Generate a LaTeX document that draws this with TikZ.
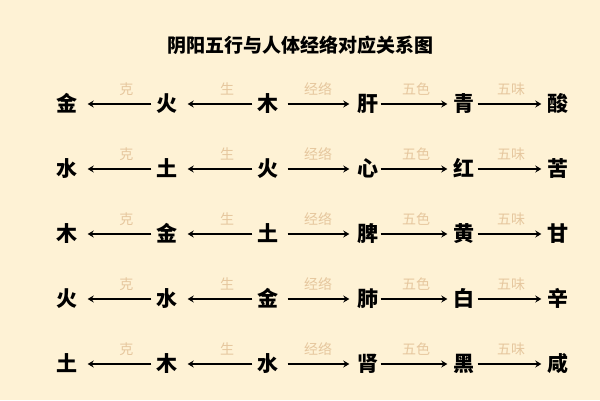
\documentclass[tikz,border=0pt]{standalone}
\usepackage{fontspec}
\setmainfont{Noto Sans CJK SC}
\usetikzlibrary{arrows.meta}
\definecolor{paper}{HTML}{FEF2D5}
\definecolor{tag}{HTML}{E6C79E}
\tikzset{
  ch/.style={font=\fontsize{21}{21}\selectfont\bfseries, inner sep=0pt, text height=18pt, text depth=3pt},
  lab/.style={font=\fontsize{14}{14}\selectfont, text=tag, inner sep=0pt, yshift=15pt},
  arr/.style={-{Stealth[length=6pt,width=7pt,inset=2pt]}, line width=1.4pt},
  back/.style={arr, shorten <=5pt, shorten >=10pt},
  jl/.style={arr, shorten <=9pt, shorten >=8pt},
  se/.style={arr, shorten <=2pt, shorten >=6pt},
  wei/.style={arr, shorten <=3pt, shorten >=6pt}
}
\begin{document}
\begin{tikzpicture}[x=1pt,y=-1pt]
\fill [paper] (0,0) rectangle (600,400);
\node (title) at (300,45) [font=\fontsize{19}{19}\selectfont\bfseries] {阴阳五行与人体经络对应关系图};
% row 1
\node (ke1)   at (67,104)  [ch] {金};
\node (sh1)   at (167,104) [ch] {火};
\node (wx1)   at (268,104) [ch] {木};
\node (zang1) at (368,104) [ch] {肝};
\node (col1)  at (464,104) [ch] {青};
\node (tas1)  at (558,104) [ch] {酸};
% row 2
\node (ke2)   at (67,169)  [ch] {水};
\node (sh2)   at (167,169) [ch] {土};
\node (wx2)   at (268,169) [ch] {火};
\node (zang2) at (368,169) [ch] {心};
\node (col2)  at (464,169) [ch] {红};
\node (tas2)  at (558,169) [ch] {苦};
% row 3
\node (ke3)   at (67,234)  [ch] {木};
\node (sh3)   at (167,234) [ch] {金};
\node (wx3)   at (268,234) [ch] {土};
\node (zang3) at (368,234) [ch] {脾};
\node (col3)  at (464,234) [ch] {黄};
\node (tas3)  at (558,234) [ch] {甘};
% row 4
\node (ke4)   at (67,299)  [ch] {火};
\node (sh4)   at (167,299) [ch] {水};
\node (wx4)   at (268,299) [ch] {金};
\node (zang4) at (368,299) [ch] {肺};
\node (col4)  at (464,299) [ch] {白};
\node (tas4)  at (558,299) [ch] {辛};
% row 5
\node (ke5)   at (67,364)  [ch] {土};
\node (sh5)   at (167,364) [ch] {木};
\node (wx5)   at (268,364) [ch] {水};
\node (zang5) at (368,364) [ch] {肾};
\node (col5)  at (464,364) [ch] {黑};
\node (tas5)  at (558,364) [ch] {咸};
% arrows
\draw [back] (sh1) -- node[lab,pos=0.38] {克} (ke1);
\draw [back] (wx1) -- node[lab,pos=0.38] {生} (sh1);
\draw [jl]   (wx1) -- node[lab] {经络} (zang1);
\draw [se]   (zang1) -- node[lab] {五色} (col1);
\draw [wei]  (col1) -- node[lab] {五味} (tas1);
\draw [back] (sh2) -- node[lab,pos=0.38] {克} (ke2);
\draw [back] (wx2) -- node[lab,pos=0.38] {生} (sh2);
\draw [jl]   (wx2) -- node[lab] {经络} (zang2);
\draw [se]   (zang2) -- node[lab] {五色} (col2);
\draw [wei]  (col2) -- node[lab] {五味} (tas2);
\draw [back] (sh3) -- node[lab,pos=0.38] {克} (ke3);
\draw [back] (wx3) -- node[lab,pos=0.38] {生} (sh3);
\draw [jl]   (wx3) -- node[lab] {经络} (zang3);
\draw [se]   (zang3) -- node[lab] {五色} (col3);
\draw [wei]  (col3) -- node[lab] {五味} (tas3);
\draw [back] (sh4) -- node[lab,pos=0.38] {克} (ke4);
\draw [back] (wx4) -- node[lab,pos=0.38] {生} (sh4);
\draw [jl]   (wx4) -- node[lab] {经络} (zang4);
\draw [se]   (zang4) -- node[lab] {五色} (col4);
\draw [wei]  (col4) -- node[lab] {五味} (tas4);
\draw [back] (sh5) -- node[lab,pos=0.38] {克} (ke5);
\draw [back] (wx5) -- node[lab,pos=0.38] {生} (sh5);
\draw [jl]   (wx5) -- node[lab] {经络} (zang5);
\draw [se]   (zang5) -- node[lab] {五色} (col5);
\draw [wei]  (col5) -- node[lab] {五味} (tas5);
\end{tikzpicture}
\end{document}
